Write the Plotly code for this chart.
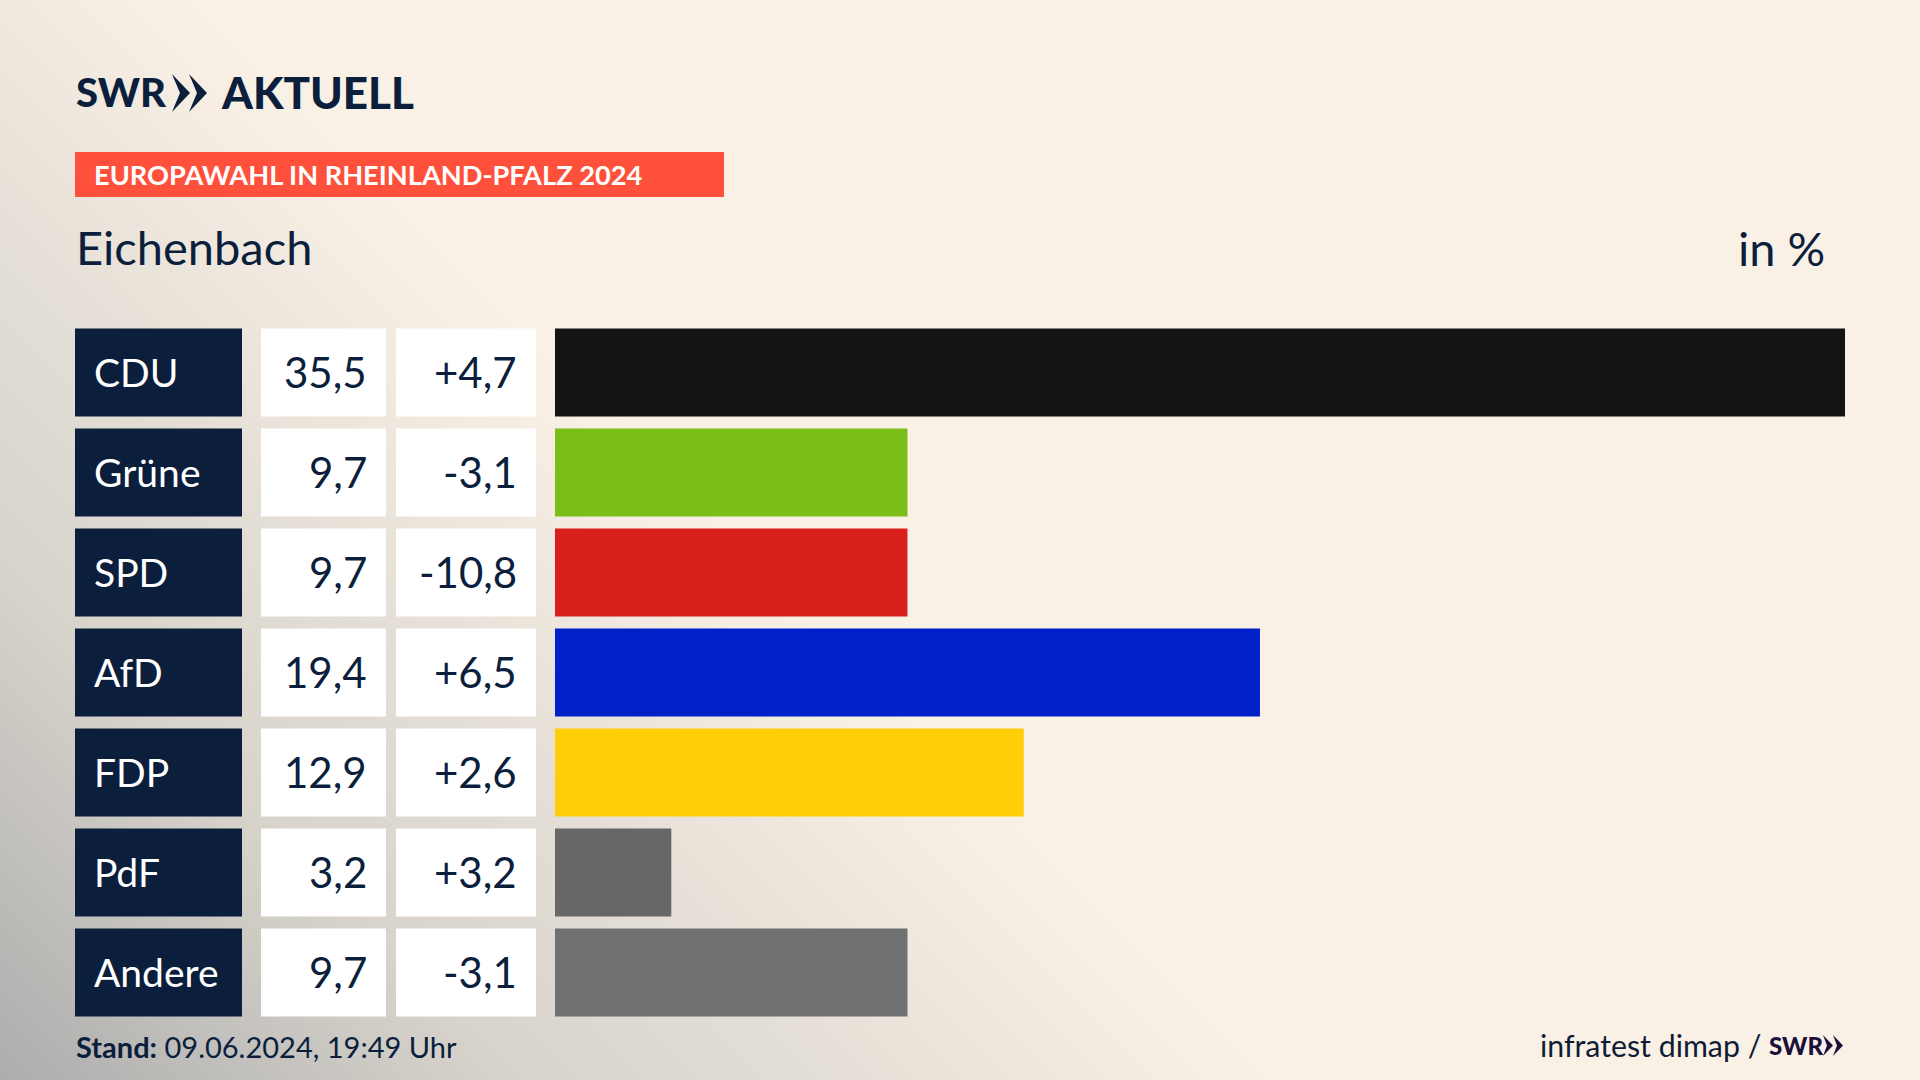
import base64
import plotly.graph_objects as go

parties = ["CDU", "Grüne", "SPD", "AfD", "FDP", "PdF", "Andere"]
shares = [35.5, 9.7, 9.7, 19.4, 12.9, 3.2, 9.7]
changes = ["+4,7", "-3,1", "-10,8", "+6,5", "+2,6", "+3,2", "-3,1"]
colors = ["#141414", "#7BBE19", "#D81F1C", "#0020C8", "#FFCE08", "#676767", "#707173"]

W, H = 1920, 1080
NAVY = "#0B1F3D"
FONT = "Lato"


def px(x):
    return x / W


def py(y):
    return 1 - y / H


svg = f'''<svg xmlns="http://www.w3.org/2000/svg" width="{W}" height="{H}" viewBox="0 0 {W} {H}">
<defs>
<linearGradient id="g" gradientUnits="userSpaceOnUse" x1="0" y1="1080" x2="640" y2="440">
<stop offset="0" stop-color="#ADADAD"/>
<stop offset="0.2" stop-color="#C2C0BC"/>
<stop offset="0.41" stop-color="#D8D4CC"/>
<stop offset="0.63" stop-color="#E2DDD5"/>
<stop offset="0.86" stop-color="#F2EAE0"/>
<stop offset="1" stop-color="#FAF1E6"/>
</linearGradient>
</defs>
<rect width="{W}" height="{H}" fill="url(#g)"/>
</svg>'''
bg = "data:image/svg+xml;base64," + base64.b64encode(svg.encode()).decode()

rows = list(range(len(parties)))
fig = go.Figure(
    go.Bar(
        x=shares,
        y=rows,
        orientation="h",
        marker=dict(color=colors, line=dict(width=0)),
        width=0.88,
        hoverinfo="skip",
    )
)

shapes = []
annotations = []


def note(text, x, y, size, color=NAVY, anchor="left", yref="paper", weight=None):
    font = dict(family=FONT, size=size, color=color)
    if weight:
        font["weight"] = weight
    annotations.append(
        dict(
            text=text,
            x=px(x),
            y=y if yref != "paper" else py(y),
            xref="paper",
            yref=yref,
            xanchor=anchor,
            yanchor="middle",
            showarrow=False,
            font=font,
            borderpad=0,
        )
    )


for i, (party, share, change) in enumerate(zip(parties, shares, changes)):
    for x0, x1, fill in [(75, 242, NAVY), (261, 386, "#FFFFFF"), (396, 536, "#FFFFFF")]:
        shapes.append(
            dict(
                type="rect", xref="paper", yref="y", layer="below",
                x0=px(x0), x1=px(x1), y0=i - 0.44, y1=i + 0.44,
                fillcolor=fill, line=dict(width=0),
            )
        )
    note(party, 93, i - 0.005, 39, color="#FFFFFF", yref="y")
    note(f"{share:.1f}".replace(".", ","), 368, i - 0.005, 42, anchor="right", yref="y")
    note(change, 518, i - 0.005, 42, anchor="right", yref="y")

# banner
shapes.append(dict(type="rect", xref="paper", yref="paper", x0=px(75), x1=px(724), y0=py(152), y1=py(197),
                   fillcolor="#FF503C", line=dict(width=0), layer="below"))


def chevron(x, y0, y1, notch, tip):
    ym = (y0 + y1) / 2
    pts = [(x, y0), (x + tip, ym), (x, y1), (x + notch, ym)]
    return "M" + " L".join(f"{px(a):.5f},{py(b):.5f}" for a, b in pts) + " Z"


for x, y0, y1, notch, tip in [(172, 74, 112, 8, 18), (189, 74, 112, 8, 18), (1823, 1035, 1056, 4, 10), (1833, 1035, 1056, 4, 10)]:
    shapes.append(dict(type="path", xref="paper", yref="paper", path=chevron(x, y0, y1, notch, tip),
                       fillcolor=NAVY if x < 500 else "#1B0F3C", line=dict(width=0)))

note("SWR", 75, 92, 40, weight=900)
note("AKTUELL", 220, 92, 44, weight=900)
note("<b>EUROPAWAHL IN RHEINLAND-PFALZ 2024</b>", 93, 174.5, 27.2, color="#FFFFFF")
note("Eichenbach", 75, 247, 47)
note("in %", 1826, 248, 47, anchor="right")
note("<b>Stand:</b> 09.06.2024, 19:49 Uhr", 75, 1046, 29)
note("infratest dimap /", 1762, 1045, 30.3, color="#101C33", anchor="right")
note("SWR", 1768, 1045, 24, color="#1B0F3C", weight=900)

fig.update_layout(
    width=W,
    height=H,
    margin=dict(l=0, r=0, t=0, b=0),
    paper_bgcolor="#FAF1E6",
    plot_bgcolor="rgba(0,0,0,0)",
    showlegend=False,
    shapes=shapes,
    annotations=annotations,
    images=[dict(source=bg, xref="paper", yref="paper", x=0, y=1, sizex=1, sizey=1,
                 xanchor="left", yanchor="top", sizing="stretch", layer="below")],
    xaxis=dict(domain=[px(555), px(1845)], range=[0, 35.5], visible=False, fixedrange=True),
    yaxis=dict(domain=[py(1022.5), py(322.5)], range=[6.5, -0.5], visible=False, fixedrange=True),
)

fig.write_html(
    "out.html",
    config={"displayModeBar": False},
    post_script="document.body.style.margin='0';document.body.style.background='#FAF1E6';",
)
